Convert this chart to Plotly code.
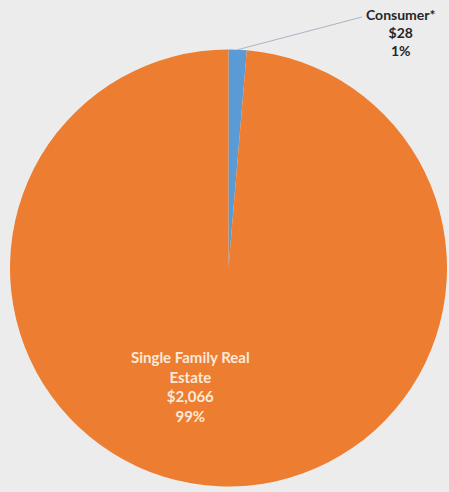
import math
import plotly.graph_objects as go

# Loan portfolio composition ($ millions)
categories = ["Consumer*", "Single Family Real Estate"]
values = [28, 2066]
colors = ["#5B9BD5", "#ED7D31"]

W, H = 449, 492
# pie placement in paper fractions
dom_x = [10 / W, 447 / W]
dom_y = [1 - 488 / H, 1 - 48 / H]

total = sum(values)
pcts = [v / total * 100 for v in values]

def label_text(name, value, pct):
    return f"{name}<br>${value:,.0f}<br>{pct:.0f}%"

fig = go.Figure(
    go.Pie(
        labels=categories,
        values=values,
        sort=False,
        direction="clockwise",
        rotation=0,
        marker=dict(colors=colors, line=dict(width=0)),
        textinfo="none",
        hoverinfo="label+value+percent",
        showlegend=False,
        domain=dict(x=dom_x, y=dom_y),
    )
)

# geometry of the pie in pixels, for the leader line
cx = (dom_x[0] + dom_x[1]) / 2 * W
cy_paper = (dom_y[0] + dom_y[1]) / 2
r_px = min((dom_x[1] - dom_x[0]) * W, (dom_y[1] - dom_y[0]) * H) / 2
mid_angle = math.radians(values[0] / total * 360 / 2)
edge_x = cx + r_px * math.sin(mid_angle)
edge_y_px = (1 - cy_paper) * H - r_px * math.cos(mid_angle)

fig.add_shape(
    type="line",
    xref="paper", yref="paper",
    x0=edge_x / W, y0=1 - edge_y_px / H,
    x1=362 / W, y1=1 - 17 / H,
    line=dict(color="#aab4c2", width=1),
)

# outside label for the small slice
fig.add_annotation(
    x=401 / W, y=1 - 32 / H, xref="paper", yref="paper",
    xanchor="center", yanchor="middle",
    text=label_text(categories[0], values[0], pcts[0]),
    showarrow=False,
    font=dict(family="Lato", size=14, color="#262626", weight="bold"),
    align="center",
)

# inside label for the large slice
fig.add_annotation(
    x=190 / W, y=1 - 386 / H, xref="paper", yref="paper",
    xanchor="center", yanchor="middle",
    text=label_text("Single Family Real<br>Estate", values[1], pcts[1]),
    showarrow=False,
    font=dict(family="Lato", size=15, color="#fbeadb", weight="bold"),
    align="center",
)

fig.update_layout(
    width=W, height=H,
    margin=dict(l=0, r=0, t=0, b=0),
    paper_bgcolor="#ececec",
    plot_bgcolor="#ececec",
)

fig.write_html("out.html")
